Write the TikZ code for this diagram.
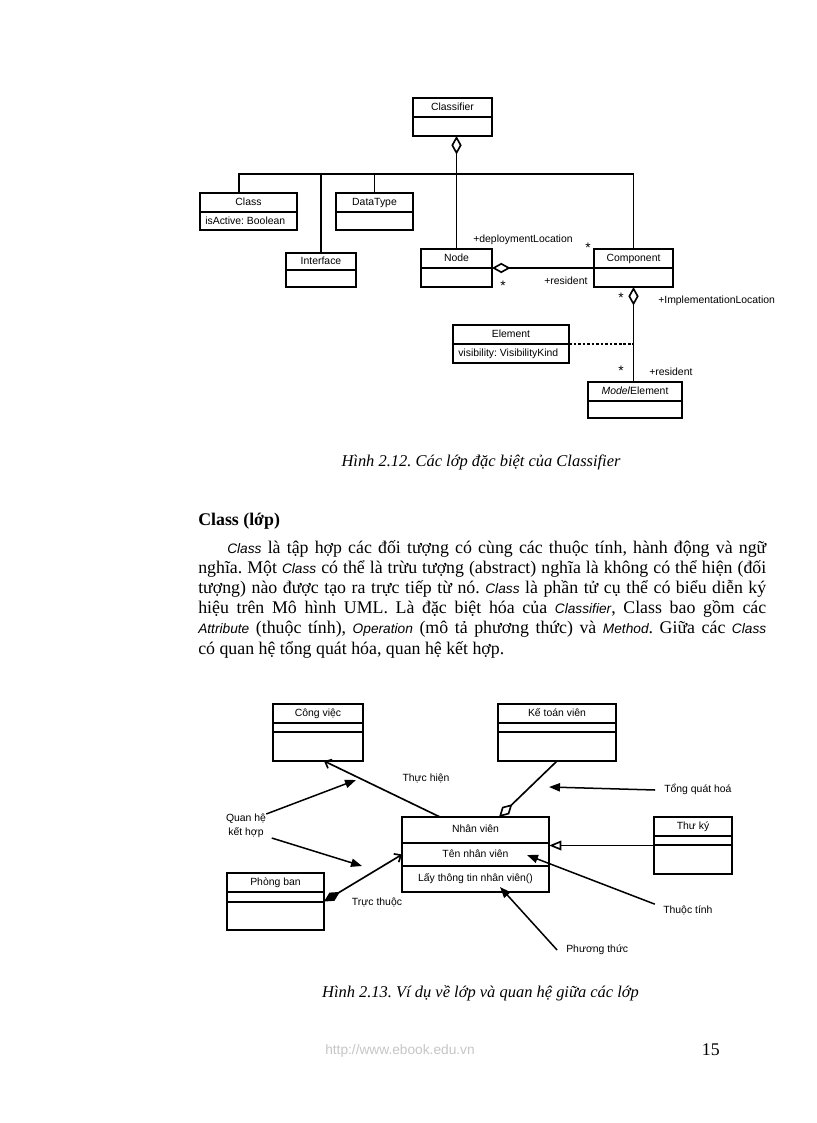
\documentclass[tikz,border=0pt]{standalone}
\usepackage{fontspec}
\setmainfont{Liberation Serif}
\newfontfamily\arialf{Liberation Sans}
\usetikzlibrary{arrows.meta,calc}
\frenchspacing
\newlength\ux
\setlength\ux{0.7292pt}
\newcommand\dfont{\arialf\fontsize{7.6}{9}\selectfont}
\newcommand\isf[1]{{\arialf\itshape\fontsize{10}{12}\selectfont #1}}
\newcommand\umlbox[8]{%
  \node[umlboxst, minimum width={(#4-#2)*0.7292pt}, minimum height={(#5-#3)*0.7292pt}, anchor=north west] (#1) at (#2,#3) {};
  \foreach \dv in {#6} {\draw[divline] (#1.west |- 0,\dv) -- (#1.east |- 0,\dv);}
  \node[dlabel] (#1-t) at ({(#2+#4)/2},#7) {#8};
}
\begin{document}
\frenchspacing
\begin{tikzpicture}[x=0.7292pt, y=-0.7292pt,
  umlboxst/.style={draw, line width=1.3pt, inner sep=0, outer sep=0},
  divline/.style={line width=1.2pt},
  dlabel/.style={font=\dfont, inner sep=0, text height=5.6pt, text depth=1.6pt},
  alabel/.style={font=\dfont, inner sep=0},
  starlbl/.style={font=\arialf\fontsize{10}{10}\selectfont, inner sep=0},
  conn/.style={line width=1.2pt},
  dashline/.style={line width=0.8pt, dash pattern=on 2pt off 1.3pt},
  aggr/.style={{Diamond[open,length=13.5pt,width=7.5pt]}-},
  ann/.style={line width=1.1pt, -{Triangle[length=8pt,width=6pt]}},
  openarr/.style={-{Straight Barb[length=4pt,width=7pt]}},
  compoarr/.style={{Diamond[fill=black,length=13.5pt,width=7pt]}-{Straight Barb[length=4pt,width=7pt]}},
  bodytxt/.style={font=\fontsize{13}{15}\selectfont, inner sep=0, anchor=base west},
  figcap/.style={font=\itshape\fontsize{12}{14}\selectfont, inner sep=0, anchor=base}
]
\useasboundingbox[fill=white] (0,0) rectangle (816,1123);

% ===== Figure 2.12 =====
\umlbox{clf}{413}{98}{492}{136}{117}{107.5}{Classifier}
\umlbox{cls}{200}{193}{297}{230}{212}{202.5}{Class}
\node[alabel, anchor=west] (cls-a) at (205,221) {isActive: Boolean};
\umlbox{dt}{336}{193}{413}{230}{212}{202.5}{DataType}
\umlbox{intf}{286}{253}{356}{287}{270}{261.5}{Interface}
\umlbox{nd}{421}{249}{492}{287}{268}{258.5}{Node}
\umlbox{cmp}{594}{249}{673}{287}{268}{258.5}{Component}
\umlbox{elem}{453}{325}{569}{363}{344}{334.5}{Element}
\node[alabel, anchor=west] (elem-a) at (458,353.5) {visibility: VisibilityKind};
\umlbox{me}{588}{382}{682}{418}{401}{391.5}{\textit{Model}Element}

\coordinate (busL) at (239,174);
\draw[conn] (busL |- cls.north) -- (busL) -- (busL -| cmp.north) -- (cmp.north);
\draw[conn] (intf.north) -- (intf.north |- busL);
\draw[conn] (dt.north) -- (dt.north |- busL);
\draw[conn, aggr] (clf.south -| nd.north) -- (nd.north);
\draw[conn, aggr] (nd.east) -- (cmp.west);
\draw[conn, aggr] (cmp.south) -- (cmp.south |- me.north);
\draw[dashline] (elem.east) -- (elem.east -| cmp.south);

\node[alabel, anchor=base west] (l1) at (473,242.5) {+deploymentLocation};
\node[starlbl] (s1) at (588,248) {*};
\node[starlbl] (s2) at (503,285.5) {*};
\node[alabel, anchor=base west] (l2) at (544,284.5) {+resident};
\node[starlbl] (s3) at (621,298) {*};
\node[alabel, anchor=base west] (l3) at (658,303.5) {+ImplementationLocation};
\node[starlbl] (s4) at (621,371) {*};
\node[alabel, anchor=base west] (l4) at (649,375.5) {+resident};

\node[figcap] (cap1) at (481,466.5) {Hình 2.12. Các lớp đặc biệt của Classifier};

% ===== Text =====
\node[bodytxt, font=\bfseries\fontsize{13}{15}\selectfont] (hd) at (198,525) {Class (lớp)};
\node[bodytxt] (p1) at (227,553) {\makebox[539\ux][s]{\isf{Class} là tập hợp các đối tượng có cùng các thuộc tính, hành động và ngữ}};
\node[bodytxt] (p2) at (198,573.3) {\makebox[568\ux][s]{nghĩa. Một \isf{Class} có thể là trừu tượng (abstract) nghĩa là không có thể hiện (đối}};
\node[bodytxt] (p3) at (198,593.5) {\makebox[568\ux][s]{tượng) nào được tạo ra trực tiếp từ nó. \isf{Class} là phần tử cụ thể có biểu diễn ký}};
\node[bodytxt] (p4) at (198,613.7) {\makebox[568\ux][s]{hiệu trên Mô hình UML. Là đặc biệt hóa của \isf{Classifier}, Class bao gồm các}};
\node[bodytxt] (p5) at (198,633.9) {\makebox[568\ux][s]{\isf{Attribute} (thuộc tính), \isf{Operation} (mô tả phương thức) và \isf{Method}. Giữa các \isf{Class}}};
\node[bodytxt] (p6) at (198,654.1) {có quan hệ tổng quát hóa, quan hệ kết hợp.};

% ===== Figure 2.13 =====
\umlbox{cv}{273}{704}{363}{761}{723,732}{713.5}{Công việc}
\umlbox{ktv}{498}{704}{616}{761}{723,732}{713.5}{Kế toán viên}
\umlbox{nv}{402}{817}{549}{892}{843,866}{830}{Nhân viên}
\node[dlabel] (nv-a) at (475.5,854.5) {Tên nhân viên};
\node[dlabel] (nv-o) at (475.5,879) {Lấy thông tin nhân viên()};
\umlbox{tk}{654}{817}{732}{874}{836,845}{826.5}{Thư ký}
\umlbox{pb}{227}{873}{324}{930}{892,902}{882.5}{Phòng ban}

\draw[conn, openarr] ($(nv.north west)+(38,0)$) -- ($(cv.south east)+(-39,0)$);
\draw[conn, aggr] ($(nv.north west)+(97,0)$) -- (ktv.south);
\draw[conn, -{Triangle[open,length=9pt,width=7pt]}] (tk.west) -- (tk.west -| nv.east);
\draw[conn, compoarr] (pb.east) -- (nv.west);

\node[dlabel] (thl) at (426,779) {Thực hiện};
\node[dlabel] (ttl) at (377,903) {Trực thuộc};
\node[alabel, align=center] (qh) at (246,826) {Quan hệ\\[1pt]kết hợp};
\coordinate (qhA) at (356,780);
\coordinate (qhB) at (362,866);
\draw[ann] (qh.north east) -- (qhA);
\draw[ann] ([xshift=4pt]qh.south east) -- (qhB);
\node[dlabel, anchor=west] (tq) at (664,790) {Tổng quát hoá};
\coordinate (tqA) at (549,787);
\draw[ann] ([xshift=-6.5pt]tq.west) -- (tqA);
\node[dlabel, anchor=west] (tt) at (663,911) {Thuộc tính};
\coordinate (ttA) at (527,855);
\draw[ann] ([xshift=-6pt,yshift=5pt]tt.west) -- (ttA);
\node[dlabel, anchor=west] (pt) at (566,950) {Phương thức};
\coordinate (ptA) at (500,887);
\draw[ann] ([xshift=-6.5pt]pt.west) -- (ptA);

\node[figcap] (cap2) at (480.5,997) {Hình 2.13. Ví dụ về lớp và quan hệ giữa các lớp};

% ===== Footer =====
\node[inner sep=0, anchor=base west, font=\arialf\fontsize{10}{12}\selectfont, text=gray!45] (url) at (325,1054) {http://www.ebook.edu.vn};
\node[inner sep=0, anchor=base east, font=\fontsize{13}{15}\selectfont] (pg) at (720,1055) {15};
\end{tikzpicture}
\end{document}
